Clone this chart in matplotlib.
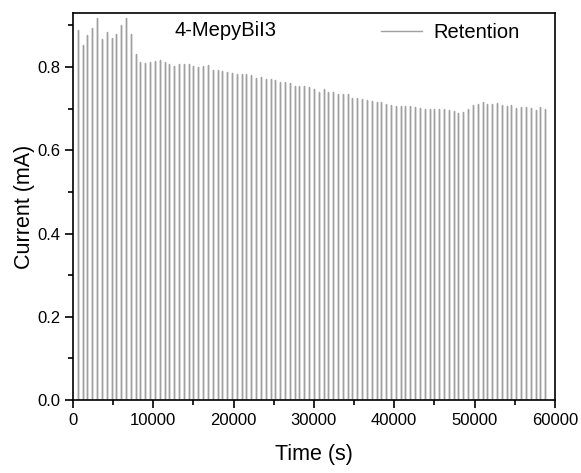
import matplotlib
matplotlib.use("Agg")
import matplotlib.pyplot as plt
from matplotlib.ticker import MultipleLocator

plt.rcParams['font.family'] = ['Liberation Sans', 'DejaVu Sans']

pulse_interval = 600  # s
currents = [
    0.888, 0.853, 0.878, 0.893, 0.917, 0.868, 0.884, 0.871, 0.879, 0.900,
    0.917, 0.880, 0.831, 0.812, 0.811, 0.812, 0.814, 0.818, 0.812, 0.808,
    0.803, 0.807, 0.808, 0.807, 0.802, 0.800, 0.802, 0.804, 0.794, 0.792,
    0.790, 0.788, 0.787, 0.783, 0.784, 0.784, 0.780, 0.775, 0.776, 0.772,
    0.772, 0.770, 0.764, 0.764, 0.763, 0.755, 0.755, 0.754, 0.752, 0.747,
    0.739, 0.747, 0.739, 0.739, 0.736, 0.735, 0.735, 0.725, 0.726, 0.723,
    0.722, 0.719, 0.716, 0.715, 0.712, 0.708, 0.706, 0.706, 0.707, 0.706,
    0.704, 0.702, 0.700, 0.700, 0.700, 0.700, 0.700, 0.698, 0.695, 0.690,
    0.692, 0.700, 0.710, 0.711, 0.716, 0.712, 0.712, 0.714, 0.708, 0.707,
    0.708, 0.702, 0.704, 0.704, 0.702, 0.696, 0.703, 0.699,
]
times = [pulse_interval * (i + 1) for i in range(len(currents))]

# build pulse trace: baseline 0, spike to the current value
xs, ys = [0], [0]
for t, v in zip(times, currents):
    xs += [t, t, t]
    ys += [0, v, 0]
xs.append(59000)
ys.append(0)

fig = plt.figure(figsize=(5.81, 4.73), dpi=100)
ax = fig.add_axes([0.1256, 0.1543, 0.8294, 0.8182])
ax.plot(xs, ys, color='#a0a0a0', lw=1.0, label='Retention')

ax.set_xlim(0, 60000)
ax.set_ylim(0, 0.93)
ax.xaxis.set_major_locator(MultipleLocator(10000))
ax.xaxis.set_minor_locator(MultipleLocator(5000))
ax.yaxis.set_major_locator(MultipleLocator(0.2))
ax.yaxis.set_minor_locator(MultipleLocator(0.1))
ax.yaxis.set_major_formatter(matplotlib.ticker.FormatStrFormatter('%.1f'))
ax.tick_params(which='major', direction='out', length=6, width=1.2,
               labelsize=12, pad=3)
ax.tick_params(which='minor', direction='out', length=3.5, width=1.2)
for s in ax.spines.values():
    s.set_linewidth(1.2)

ax.set_xlabel('Time (s)', fontsize=15.5, labelpad=12)
ax.set_ylabel('Current (mA)', fontsize=15.5, labelpad=2)

ax.text(0.21, 0.955, '4-MepyBiI3', transform=ax.transAxes, fontsize=14.5,
        va='center', ha='left')
ax.legend(loc='upper right', frameon=False, fontsize=14.5, handlelength=2.0,
          handletextpad=0.6, bbox_to_anchor=(0.965, 1.02))

fig.savefig('out.png', dpi=100)
